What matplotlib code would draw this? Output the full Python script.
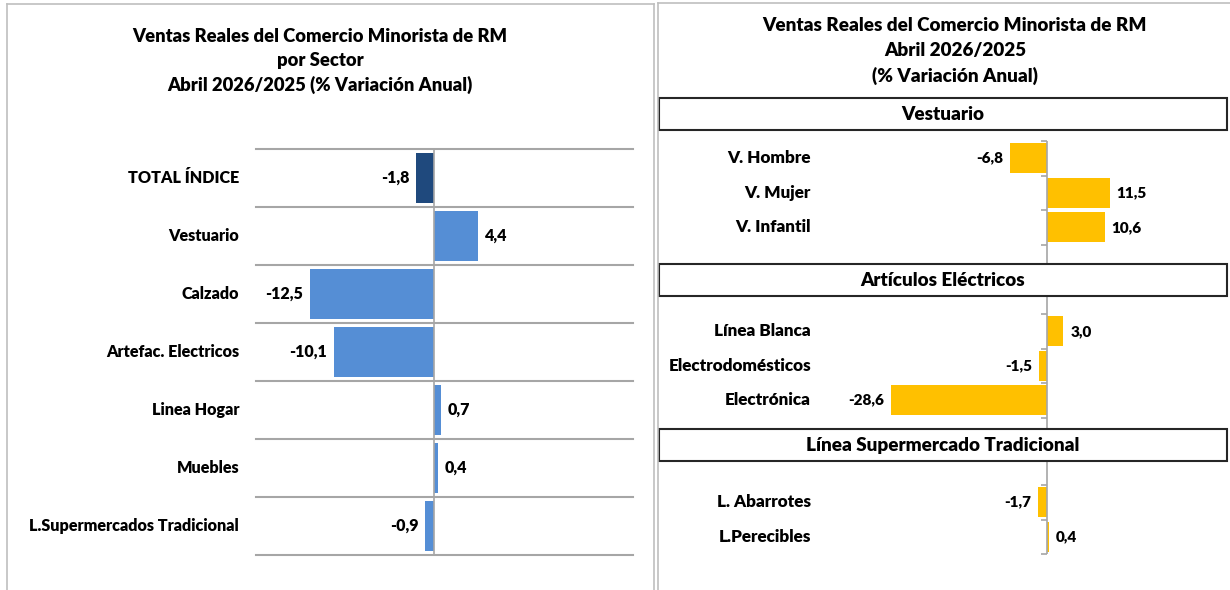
import matplotlib.pyplot as plt
from matplotlib.patches import Rectangle
from matplotlib.lines import Line2D
from matplotlib import transforms

plt.rcParams['font.family'] = ['Lato', 'DejaVu Sans']
plt.rcParams['font.weight'] = 'bold'

W, H = 1230, 590

# left chart: sectors
sectores = ['TOTAL ÍNDICE', 'Vestuario', 'Calzado', 'Artefac. Electricos',
            'Linea Hogar', 'Muebles', 'L.Supermercados Tradicional']
var_sector = [-1.8, 4.4, -12.5, -10.1, 0.7, 0.4, -0.9]

# right chart: sub-lines
vestuario = ['V. Hombre', 'V. Mujer', 'V. Infantil']
var_vestuario = [-6.8, 11.5, 10.6]
electricos = ['Línea Blanca', 'Electrodomésticos', 'Electrónica']
var_electricos = [3.0, -1.5, -28.6]
super_trad = ['L. Abarrotes', 'L.Perecibles']
var_super = [-1.7, 0.4]

AZUL = '#558ED5'
AZUL_OSC = '#1F497D'
AMARILLO = '#FFC000'
GRIS = '#A6A6A6'
PESO = 'heavy'


def fmt(v):
    return f'{v:.1f}'.replace('.', ',')


def px_axes(x0, y0, x1, y1):
    # axes placed by pixel box (top-left origin)
    return fig.add_axes([x0 / W, 1 - y1 / H, (x1 - x0) / W, (y1 - y0) / H])


def fx(x):
    return x / W


def fy(y):
    return 1 - y / H


def value_labels(ax, vals, size):
    for i, v in enumerate(vals):
        off = 5 if v >= 0 else -5
        ax.annotate(fmt(v), (v, i), xytext=(off, 0), textcoords='offset points',
                    ha='left' if v >= 0 else 'right', va='center',
                    fontsize=size, fontweight=PESO)


fig = plt.figure(figsize=(W / 100, H / 100), dpi=100)

# panel borders
for xs, ys in [((7, 7), (4, 590)), ((7, 654), (4, 4)), ((654, 654), (4, 590)),
               ((658, 658), (3, 590)), ((658, 1230), (3, 3))]:
    fig.add_artist(Line2D([fx(x) for x in xs], [fy(y) for y in ys],
                          color='#BFBFBF', lw=1.2))

# ---------------- left chart ----------------
fig.text(fx(320), fy(61), 'Ventas Reales del Comercio Minorista de RM\npor Sector\n'
         'Abril 2026/2025 (% Variación Anual)', ha='center', va='center',
         fontsize=13.2, fontweight=PESO, linespacing=1.45)

ax = px_axes(256, 149, 633, 555)
ypos = list(range(len(sectores)))
colores = [AZUL_OSC] + [AZUL] * (len(sectores) - 1)
ax.barh(ypos, var_sector, height=0.87, color=colores)
ax.set_xlim(-18, 20.1)
ax.set_ylim(len(sectores) - 0.5, -0.5)
for b in range(len(sectores) + 1):
    ax.axhline(b - 0.5, color=GRIS, lw=1.5, clip_on=False)
ax.axvline(0, color=GRIS, lw=1.2)
ax.axis('off')
value_labels(ax, var_sector, 11.5)
tr = transforms.blended_transform_factory(fig.transFigure, ax.transData)
for i, s in enumerate(sectores):
    ax.text(fx(239), i, s, transform=tr, ha='right', va='center',
            fontsize=11.6, fontweight=PESO)

# ---------------- right chart ----------------
fig.text(fx(955), fy(51), 'Ventas Reales del Comercio Minorista de RM\nAbril 2026/2025\n'
         '(% Variación Anual)', ha='center', va='center',
         fontsize=13.6, fontweight=PESO, linespacing=1.55)

secciones = [
    ('Vestuario', (98, 130), vestuario, var_vestuario, (141, 263), 141),
    ('Artículos Eléctricos', (264, 296), electricos, var_electricos, (296, 429), 314),
    ('Línea Supermercado Tradicional', (429, 461), super_trad, var_super, (462, 554), 485),
]
ROW = 34.5
for titulo, (by0, by1), cats, vals, (ay0, ay1), first_tick in secciones:
    fig.add_artist(Rectangle((fx(659), fy(by1)), (1227 - 659) / W, (by1 - by0) / H,
                             transform=fig.transFigure, fill=False,
                             edgecolor='#262626', lw=1.5))
    fig.text(fx(943), fy((by0 + by1) / 2), titulo, ha='center', va='center',
             fontsize=13.6, fontweight=PESO)

    ax = px_axes(830, ay0, 1200, ay1)
    top = -0.5 - (first_tick - ay0) / ROW
    bottom = top + (ay1 - ay0) / ROW
    ax.set_ylim(bottom, top)
    ax.set_xlim((830 - 1047) / 5.45, (1200 - 1047) / 5.45)
    ypos = list(range(len(cats)))
    ax.barh(ypos, vals, height=0.87, color=AMARILLO)
    for s in ['top', 'right', 'bottom', 'left']:
        ax.spines[s].set_visible(False)
    ax.axvline(0, color=GRIS, lw=1.2)
    ax.set_xticks([])
    ax.set_yticks([b - 0.5 for b in range(len(cats) + 1)])
    ax.set_yticklabels([])
    ax.yaxis.set_ticks_position('left')
    ax.tick_params(axis='y', length=4, color=GRIS, width=1.2, pad=0)
    # move the tick marks onto the zero line
    ax.spines['left'].set_position(('data', 0))
    value_labels(ax, vals, 11)
    tr = transforms.blended_transform_factory(fig.transFigure, ax.transData)
    for i, c in enumerate(cats):
        ax.text(fx(811), i, c, transform=tr, ha='right', va='center',
                fontsize=12.3, fontweight=PESO)

fig.savefig('out.png', dpi=100)
